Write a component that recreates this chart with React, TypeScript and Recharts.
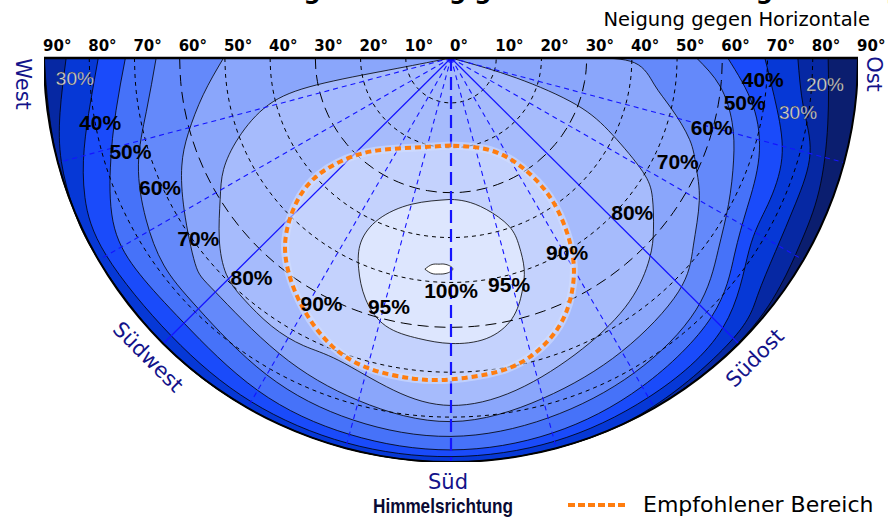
import { ComposedChart, Area, Line, Scatter, XAxis, YAxis, Legend } from "recharts";

// [Himmelsrichtung in ° (0 = Süd, − = West, + = Ost), Neigung in °]
type Pt = [number, number];

const tiltTicks = [-90, -80, -70, -60, -50, -40, -30, -20, -10, 0, 10, 20, 30, 40, 50, 60, 70, 80, 90];
const tiltRings = [10, 20, 30, 40, 50, 60, 70, 80];
const longDashRings = [30, 60];
const spokeAzimuths = [-75, -60, -45, -30, -15, 0, 15, 30, 45, 60, 75];
const solidSpokes = [-45, 45];
const ringSteps = Array.from({ length: 37 }, (_, i) => -90 + i * 5);

// Ertrags-Isolinien
const contour20: Pt[] = [[-90, 90], [-75, 90], [-60, 90], [-45, 90], [-30, 90], [-15, 90], [0, 90], [15, 90], [30, 90], [45, 89.8], [55, 88.8], [62, 87.6], [70, 86.6], [80, 84.6], [90, 83.4]];
const contour30: Pt[] = [[-90, 85.1], [-82, 87.3], [-75, 89.2], [-68, 90], [-60, 90], [-45, 90], [-30, 90], [-15, 90], [0, 90], [15, 90], [30, 89.6], [45, 88.3], [52, 86], [59, 83.7], [67, 82.8], [75, 82.2], [82, 78.7], [90, 76.7]];
const contour40: Pt[] = [[-90, 78], [-83, 80.3], [-76, 83.6], [-69, 86.7], [-60, 88], [-45, 87.5], [-30, 88.4], [-15, 88.8], [0, 88.8], [15, 88.4], [30, 87.3], [45, 85], [57, 78.6], [65, 77.3], [73, 76.5], [81, 73], [90, 69.4]];
const contour50: Pt[] = [[-90, 72], [-81, 75], [-72, 79.2], [-63, 83.5], [-55, 84], [-45, 83.5], [-30, 85.5], [-15, 86.8], [0, 87.3], [15, 86.5], [30, 84.5], [45, 81.5], [55, 76.5], [63, 73.5], [72, 71.6], [81, 67.6], [90, 61.2]];
const contour60: Pt[] = [[-90, 65.2], [-80, 68.4], [-71, 73.1], [-62, 76.4], [-54, 78.5], [-45, 79], [-30, 81.5], [-15, 83.5], [0, 84.3], [15, 83], [30, 81], [44, 78], [54, 73], [62, 69.5], [70, 66.5], [77, 63.8], [84, 59.8], [90, 54.3]];
const contour70: Pt[] = [[-90, 50.3], [-81.5, 55.4], [-74, 60.4], [-68, 64.2], [-60, 68.1], [-51, 72.8], [-45, 73.7], [-30, 76], [-15, 79], [0, 81], [15, 78.5], [30, 75.5], [44, 72.4], [52, 68], [60, 63.4], [66, 59.3], [71, 55.8], [77, 50], [82.4, 45.4], [88.5, 40.6], [90, 30.6]];
const contour80: Pt[] = [[-80, 1], [-79, 14], [-78.6, 30.3], [-75.5, 41.7], [-69.3, 50.2], [-63.7, 56.1], [-58.3, 60], [-51.8, 65.2], [-45.9, 69.2], [-40.5, 70.6], [-33.6, 71.7], [-27, 71.9], [-20.2, 71.8], [-9.7, 75.1], [0, 77.4], [11, 75.4], [24.2, 71], [36, 67.1], [44.4, 62.7], [49.6, 58.8], [55.1, 54.3], [59.2, 49.3], [64.4, 39.6], [69.4, 29.6], [72.9, 15.1], [75, 1]];
const contour90: Pt[] = [[0, 19.5], [-29.7, 23.2], [-43.5, 29.6], [-48.4, 39.1], [-46.5, 47.4], [-42.2, 54.5], [-37, 59.7], [-30.3, 64.7], [-22.4, 69.3], [-14.7, 71.5], [-6.9, 71.9], [0, 71.6], [8.7, 70.6], [15.6, 68.4], [21.9, 64.3], [26.9, 58.9], [30.9, 52.7], [34, 44.7], [35.2, 35.8], [31.2, 27], [19.9, 21.5], [0, 19.5]];
const contour95: Pt[] = [[0, 31.5], [-14.9, 33.7], [-24, 39.3], [-25.9, 45.6], [-23.5, 51.2], [-19.4, 56.9], [-13.6, 61.4], [-6.5, 62.9], [0, 63.6], [7.1, 63], [13.1, 59.6], [16.8, 54.4], [19, 49.7], [19.8, 44.5], [18.9, 39.6], [13, 34.6], [5.9, 32.1], [0, 31.5]];
const contour100: Pt[] = [[-7, 47.4], [-5.2, 46.2], [-3.3, 46], [-1.4, 46], [0.5, 47], [-1.3, 48], [-3.2, 48.2], [-5, 48.2], [-7, 47.4]];
const recommended: Pt[] = contour90;

const contourLevels = ["20%", "30%", "40%", "50%", "60%", "70%", "80%", "90%", "95%", "100%"];
const contourLines = [contour20, contour30, contour40, contour50, contour60, contour70, contour80, contour90, contour95, contour100];
const bandColors = ["#0b1e6f", "#0628a3", "#0638d6", "#1a4bfa", "#4672f9", "#6489fa", "#8aa6fb", "#a6bbfc", "#c4d2fd", "#dde6fe", "#ffffff"];

const labelTexts = ["30%", "40%", "50%", "60%", "70%", "80%", "90%", "95%", "100%", "95%", "90%", "80%", "70%", "60%", "50%", "40%", "30%", "20%"];
const labelSpots: Pt[] = [[-86.9, 83.3], [-79.5, 78.9], [-73.6, 73.9], [-65.9, 70.5], [-54.2, 68.9], [-42.1, 65.8], [-27.6, 61.8], [-13.9, 57.1], [0, 51.9], [14.3, 52], [30.7, 50.3], [49.4, 52.8], [65.3, 55.2], [74.9, 59.7], [81.3, 65.7], [86.1, 69.1], [81, 77.7], [85.9, 82.9]];
const lightLabels = ["20%", "30%"];

const legendName = "Empfohlener Bereich";

const rad = Math.PI / 180;
const project = ([az, tilt]: Pt) => ({ x: tilt * Math.sin(az * rad), y: -tilt * Math.cos(az * rad) });
const ring = (tilt: number) => ringSteps.map((az) => project([az, tilt]));

const labelData = labelTexts.map((text, i) => ({
  ...project(labelSpots[i]),
  text,
  light: lightLabels.includes(text) && (i === 0 || i >= 16),
}));

const TiltTick = ({ x, y, payload }: any) => (
  <text x={x - 1} y={y + 1} textAnchor="start" fontFamily="DejaVu Sans" fontWeight="bold" fontSize={15} fill="#000">
    {Math.abs(payload.value)}°
  </text>
);

const PercentLabel = (props: any) => {
  const { cx, cy, payload } = props;
  return (
    <text
      x={cx}
      y={cy}
      textAnchor="middle"
      dominantBaseline="central"
      fontFamily="Liberation Sans, Arial, sans-serif"
      fontWeight={payload.light ? "normal" : "bold"}
      fontSize={payload.light ? 19 : 21}
      fill={payload.light ? "#d6d6d6" : "#000"}
      stroke={payload.light ? "#333" : "none"}
      strokeWidth={payload.light ? 0.3 : 0}
    >
      {payload.text}
    </text>
  );
};

const LegendBox = () => (
  <div style={{ display: "flex", alignItems: "center", height: 26 }}>
    <svg width={58} height={8}>
      <line x1={0} y1={4} x2={58} y2={4} stroke="#ff7d0f" strokeWidth={4} strokeDasharray="7 3" />
    </svg>
    <span style={{ marginLeft: 17, fontFamily: "DejaVu Sans", fontSize: 22, color: "#000", lineHeight: "26px", whiteSpace: "nowrap" }}>
      {legendName}
    </span>
  </div>
);

const navy = "#13138a";

export default function App() {
  return (
    <div style={{ position: "absolute", left: 0, top: 0, width: 888, height: 522, background: "#fff" }}>
      <ComposedChart width={888} height={522} margin={{ top: 28, right: 30, bottom: 60, left: 44 }}>
        <XAxis
          xAxisId={0}
          type="number"
          dataKey="x"
          orientation="top"
          height={30}
          domain={[-90, 90]}
          allowDataOverflow
          ticks={tiltTicks}
          interval={0}
          tick={<TiltTick />}
          tickLine={false}
          tickSize={6}
          tickMargin={2}
          axisLine={{ stroke: "#000", strokeWidth: 2.5 }}
        />
        <YAxis yAxisId={0} type="number" dataKey="y" domain={[-90, 0]} allowDataOverflow hide width={0} />

        <Area
          data={ring(90)}
          dataKey="y"
          type="natural"
          baseValue={0}
          fill={bandColors[0]}
          fillOpacity={1}
          stroke="none"
          dot={false}
          activeDot={false}
          legendType="none"
          isAnimationActive={false}
        />
        {contourLines.map((pts, i) => (
          <Area
            key={contourLevels[i]}
            name={contourLevels[i]}
            data={pts.map(project)}
            dataKey="y"
            type="natural"
            baseValue={0}
            fill={bandColors[i + 1]}
            fillOpacity={1}
            stroke={i === 7 ? "none" : "#000"}
            strokeWidth={0.8}
            dot={false}
            activeDot={false}
            legendType="none"
            isAnimationActive={false}
          />
        ))}

        {tiltRings.map((t) => (
          <Line
            key={`ring${t}`}
            data={ring(t)}
            dataKey="y"
            type="natural"
            stroke="#000"
            strokeWidth={1}
            strokeDasharray={longDashRings.includes(t) ? "11 6" : "4 4"}
            dot={false}
            activeDot={false}
            legendType="none"
            isAnimationActive={false}
          />
        ))}

        {spokeAzimuths.map((az) => (
          <Line
            key={`spoke${az}`}
            data={[{ x: 0, y: 0 }, project([az, 90])]}
            dataKey="y"
            type="linear"
            stroke="#1414ff"
            strokeWidth={az === 0 ? 2.2 : solidSpokes.includes(az) ? 1.3 : 1.1}
            strokeDasharray={az === 0 ? "13 6" : solidSpokes.includes(az) ? undefined : "5 4"}
            dot={false}
            activeDot={false}
            legendType="none"
            isAnimationActive={false}
          />
        ))}

        <Line
          data={recommended.map(project)}
          dataKey="y"
          type="natural"
          stroke="#d2ddfe"
          strokeWidth={8}
          strokeOpacity={0.6}
          dot={false}
          activeDot={false}
          legendType="none"
          isAnimationActive={false}
        />
        <Line
          name={legendName}
          data={recommended.map(project)}
          dataKey="y"
          type="natural"
          stroke="#ff7d0f"
          strokeWidth={4}
          strokeDasharray="6 4"
          dot={false}
          activeDot={false}
          legendType="plainline"
          isAnimationActive={false}
        />

        <Line
          data={ring(90)}
          dataKey="y"
          type="natural"
          stroke="#000"
          strokeWidth={2}
          dot={false}
          activeDot={false}
          legendType="none"
          isAnimationActive={false}
        />

        <Scatter data={labelData} dataKey="y" shape={<PercentLabel />} legendType="none" isAnimationActive={false} />

        <Legend
          verticalAlign="middle"
          align="center"
          layout="horizontal"
          wrapperStyle={{ left: 568, top: 492, width: 320, height: 26 }}
          content={() => <LegendBox />}
        />
      </ComposedChart>

      <svg width={888} height={522} style={{ position: "absolute", left: 0, top: 0, pointerEvents: "none" }}>
        <text x={560} y={-1} textAnchor="middle" fontFamily="DejaVu Sans" fontWeight="bold" fontSize={24} fill="#000">
          Solarertrag in Abhängigkeit von Ausrichtung und Neigung
        </text>
        <text x={870} y={26} textAnchor="end" fontFamily="DejaVu Sans" fontSize={19.5} fill="#000">
          Neigung gegen Horizontale
        </text>
        <text x={23} y={84} transform="rotate(90 23 84)" textAnchor="middle" dominantBaseline="central" fontFamily="DejaVu Sans" fontSize={21} fill={navy}>
          West
        </text>
        <text x={874} y={74} transform="rotate(90 874 74)" textAnchor="middle" dominantBaseline="central" fontFamily="DejaVu Sans" fontSize={21} fill={navy}>
          Ost
        </text>
        <text x={148} y={357} transform="rotate(45 148 357)" textAnchor="middle" dominantBaseline="central" fontFamily="DejaVu Sans" fontSize={21} fill={navy}>
          Südwest
        </text>
        <text x={755} y={358} transform="rotate(-45 755 358)" textAnchor="middle" dominantBaseline="central" fontFamily="DejaVu Sans" fontSize={21} fill={navy}>
          Südost
        </text>
        <text x={448} y={482} textAnchor="middle" dominantBaseline="central" fontFamily="DejaVu Sans" fontSize={21} fill={navy}>
          Süd
        </text>
        <text x={373} y={513} textLength={140} lengthAdjust="spacingAndGlyphs" fontFamily="Liberation Sans Narrow, Liberation Sans, Arial" fontWeight="bold" fontSize={20} fill="#0a0a33">
          Himmelsrichtung
        </text>
      </svg>
    </div>
  );
}
